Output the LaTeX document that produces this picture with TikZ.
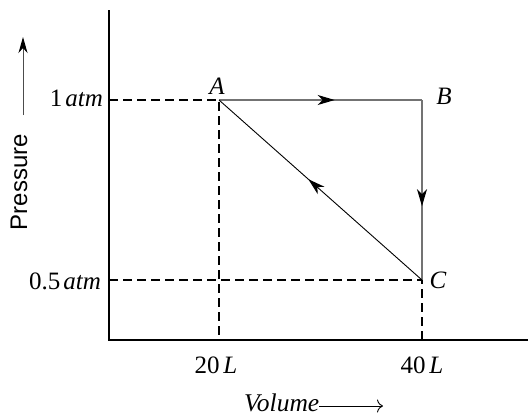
\documentclass[tikz,border=0pt]{standalone}
\usepackage{fontspec}
\setmainfont{Liberation Serif}
\newfontfamily\arialfont{Liberation Sans}
\usetikzlibrary{arrows.meta,decorations.markings}
\tikzset{
  axisline/.style={line width=1.2pt, black},
  guide/.style={line width=2.4pt, black, dash pattern=on 9pt off 5pt},
  pathgray/.style={line width=1.2pt, gray!90!black},
  pathblack/.style={line width=0.9pt, black},
  midarrow/.style={postaction={decorate}, decoration={markings,
     mark=at position #1 with {\arrow{Stealth[length=17pt,width=10pt,inset=5pt,black]}}}},
  lbl/.style={font=\fontsize{25}{29}\selectfont, inner sep=0pt},
}
\begin{document}
\begin{tikzpicture}[x=1pt,y=-1pt]
\useasboundingbox (0,0) rectangle (528,416);
% key points
\coordinate (O) at (109,340);
\coordinate (ytop) at (109,10);
\coordinate (xend) at (528,340);
\coordinate (A) at (219,100);
\coordinate (B) at (422,100);
\coordinate (C) at (422,280);
\coordinate (Ay) at (109,100);
\coordinate (Cy) at (109,280);
\coordinate (Ax) at (219,340);
\coordinate (Cx) at (422,340);
% axes
\draw[axisline] (ytop) -- (O) -- (xend);
% dashed guides
\draw[guide] (Ay) -- (A) -- (Ax);
\draw[guide] (Cy) -- (C) -- (Cx);
% process
\draw[pathgray, midarrow=0.57] (A) -- (B);
\draw[pathgray, midarrow=0.59] (B) -- (C);
\draw[pathblack, midarrow=0.56] (C) -- (A);
% labels
\node[lbl] (lA) at (217,86) {\textit{A}};
\node[lbl] (lB) at (444,96) {\textit{B}};
\node[lbl] (lC) at (438,280) {\textit{C}};
\node[lbl, anchor=east] (p1) at (103,98) {1\hspace{0.12em}\textit{atm}};
\node[lbl, anchor=east] (p2) at (101,281) {0.5\hspace{0.12em}\textit{atm}};
\node[lbl] (v1) at (216,365) {20\hspace{0.15em}\textit{L}};
\node[lbl] (v2) at (422,365) {40\hspace{0.15em}\textit{L}};
\node[lbl, anchor=base west, font=\fontsize{25.5}{29}\selectfont] (vol) at (244,411) {\textit{Volume}};
\coordinate (vend) at (383,406);
\draw[line width=0.9pt, -{To[length=6pt,width=13pt]}] (vol.east |- vend) -- (vend);
% pressure
\node[font=\arialfont\fontsize{24}{28}\selectfont, rotate=90, inner sep=0pt] (pres) at (19,182) {Pressure};
\coordinate (ptop) at (23,37);
\coordinate (pbot) at (23,115);
\draw[line width=1pt, gray!60!black, -{Stealth[length=16pt,width=9pt,inset=5pt,black]}] (pbot) -- (ptop);
\end{tikzpicture}
\end{document}
